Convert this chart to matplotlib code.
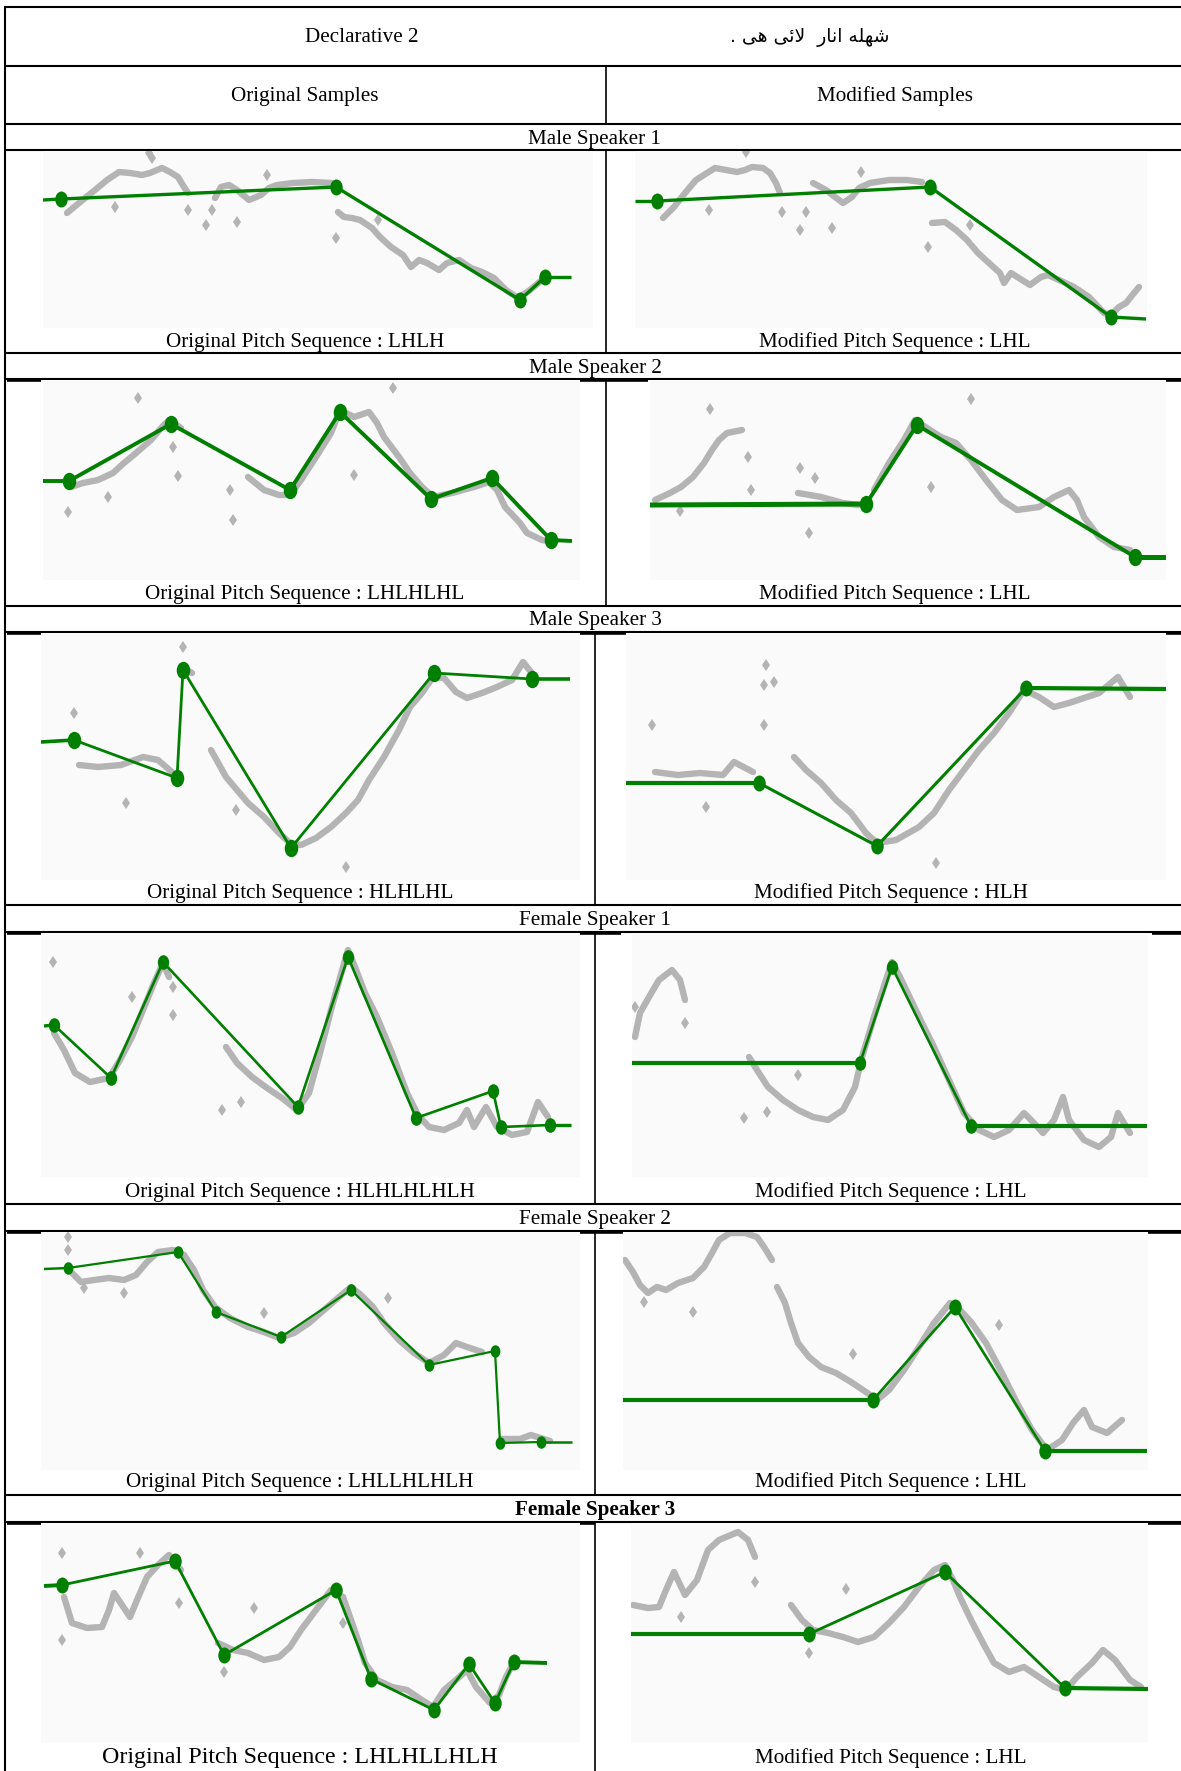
import matplotlib
matplotlib.use("Agg")
import matplotlib.pyplot as plt
from matplotlib.path import Path
from matplotlib.transforms import Affine2D

W, H = 1181, 1771

# ---------------------------------------------------------------------------
# Text content
# ---------------------------------------------------------------------------
sentence_label = "Declarative 2"
# Urdu sentence, pre-shaped into presentation forms and laid out left-to-right
sentence_urdu = (". " + "\uFEF0\uFEEB" + " " + "\uFBFD\uFE8B\uFEFB" + "  "
                 + "\uFEAD\uFE8E\uFEE7\uFE8D" + " " + "\uFEEA\uFEE0\uFEEC\uFEB7")
column_titles = ["Original Samples", "Modified Samples"]
speakers = ["Male Speaker 1", "Male Speaker 2", "Male Speaker 3",
            "Female Speaker 1", "Female Speaker 2", "Female Speaker 3"]
orig_sequences = ["LHLH", "LHLHLHL", "HLHLHL", "HLHLHLHLH", "LHLLHLHLH", "LHLHLLHLH"]
mod_sequences = ["LHL", "LHL", "HLH", "LHL", "LHL", "LHL"]

# ---------------------------------------------------------------------------
# Pitch data per panel: raw F0 track (segments), stray F0 points, stylised contour
# x = frame, y = pitch units above the panel floor
# ---------------------------------------------------------------------------
ms1_orig_f0 = [
    [(24, 115), (36, 125), (52, 138), (64, 148), (76, 156), (87, 155), (99, 153), (107, 155),
     (119, 160), (127, 156), (135, 151), (141, 141), (145, 135)],
    [(172, 130), (178, 141), (186, 143), (194, 138), (206, 128), (218, 133), (226, 140),
     (234, 143), (250, 145), (269, 146), (289, 145)],
    [(295, 116), (301, 111), (309, 110), (317, 108), (329, 100), (337, 91), (348, 81), (360, 73),
     (368, 61), (376, 68), (384, 65), (396, 58), (404, 65), (416, 68), (428, 60), (439, 56),
     (451, 50), (463, 38), (475, 30), (487, 38), (499, 48)],
]
ms1_orig_stray = [(72, 121), (145, 118), (163, 103), (169, 118), (194, 106), (224, 153),
                  (293, 90), (335, 108), (106, 175), (109, 170)]
ms1_orig_styl = [(0, 128), (18, 129), (293, 141), (477, 28), (502, 51), (528, 51)]

ms1_mod_f0 = [
    [(28, 110), (39, 121), (50, 135), (61, 148), (72, 155), (80, 160), (91, 158), (102, 156),
     (110, 158), (117, 161), (128, 160), (135, 155), (141, 145), (145, 135)],
    [(178, 145), (191, 138), (200, 131), (208, 125), (217, 131), (224, 140), (235, 145),
     (254, 148), (272, 148), (287, 146)],
    [(297, 105), (310, 106), (321, 98), (332, 88), (343, 75), (354, 65), (365, 55), (369, 45),
     (376, 55), (387, 48), (395, 43), (406, 51), (413, 53), (424, 48), (439, 41), (454, 31),
     (469, 15), (476, 13), (484, 21), (491, 25), (499, 35), (504, 41)],
]
ms1_mod_stray = [(111, 176), (74, 118), (147, 116), (165, 98), (171, 116), (197, 100),
                 (226, 156), (293, 81), (335, 103)]
ms1_mod_styl = [(0, 127), (22, 127), (295, 141), (476, 11), (511, 9)]

ms2_orig_f0 = [
    [(28, 93), (40, 97), (55, 100), (70, 107), (81, 117), (93, 127), (108, 140), (119, 153),
     (126, 160), (138, 152)],
    [(205, 103), (221, 90), (236, 85), (247, 85), (258, 100), (273, 123), (288, 147), (297, 170),
     (311, 163), (326, 168), (334, 157), (341, 143), (356, 123), (367, 107), (379, 93),
     (390, 83), (409, 87), (431, 93), (446, 98), (454, 90), (462, 73), (477, 57), (484, 47),
     (499, 40), (510, 38)],
]
ms2_orig_stray = [(95, 182), (25, 68), (65, 83), (135, 104), (190, 60), (187, 90),
                  (350, 192), (311, 105), (130, 133)]
ms2_orig_styl = [(0, 99), (26, 99), (128, 156), (247, 90), (297, 168), (388, 81),
                 (449, 102), (508, 40), (529, 39)]

ms2_mod_f0 = [
    [(5, 80), (20, 87), (31, 93), (43, 103), (54, 117), (62, 130), (69, 140), (77, 147), (92, 150)],
    [(148, 87), (171, 83), (193, 77), (208, 75)],
    [(224, 90), (239, 117), (254, 140), (265, 160), (280, 150), (291, 143), (306, 137),
     (321, 120), (336, 100), (352, 80), (367, 70), (389, 73), (404, 83), (419, 90), (427, 80),
     (434, 63), (449, 43), (464, 33), (480, 30)],
]
ms2_mod_stray = [(60, 171), (98, 123), (101, 90), (150, 112), (159, 47), (321, 181),
                 (281, 93), (165, 102), (30, 69)]
ms2_mod_styl = [(0, 75), (216, 76), (267, 155), (485, 23), (516, 23)]

ms3_orig_f0 = [
    [(38, 115), (57, 113), (80, 115), (102, 123), (117, 120), (132, 107)],
    [(140, 213), (151, 207)],
    [(170, 130), (185, 103), (196, 90), (207, 77), (223, 63), (238, 47), (249, 37), (260, 35),
     (275, 42), (290, 53), (305, 67), (317, 80), (328, 100), (343, 123), (358, 150), (369, 173),
     (381, 187), (392, 203), (403, 202), (415, 188), (426, 182), (441, 187), (456, 193),
     (471, 200), (482, 218), (494, 203)],
]
ms3_orig_stray = [(33, 167), (85, 77), (195, 70), (305, 13), (142, 233)]
ms3_orig_styl = [(0, 138), (33, 140), (136, 102), (142, 210), (250, 32), (393, 207),
                 (491, 201), (529, 201)]

ms3_mod_f0 = [
    [(29, 108), (52, 105), (74, 107), (97, 105), (108, 118), (127, 108)],
    [(168, 123), (180, 110), (195, 97), (210, 80), (225, 67), (240, 47), (251, 37), (270, 40),
     (293, 53), (308, 67), (323, 90), (338, 110), (353, 130), (368, 147), (383, 167),
     (398, 190), (413, 183), (428, 173), (443, 177), (458, 182), (473, 187), (492, 203),
     (504, 183)],
]
ms3_mod_stray = [(140, 215), (138, 195), (148, 198), (138, 155), (26, 155), (80, 73), (310, 17)]
ms3_mod_styl = [(0, 97), (133, 97), (251, 34), (400, 192), (540, 191)]

fs1_orig_f0 = [
    [(13, 144), (23, 127), (34, 104), (49, 95), (68, 99), (79, 117), (91, 140), (102, 167),
     (113, 194), (122, 214), (128, 200)],
    [(185, 130), (196, 114), (211, 100), (226, 89), (241, 79), (256, 67), (268, 84), (279, 124),
     (290, 167), (302, 210), (307, 227), (314, 210), (324, 184), (336, 160), (351, 124),
     (366, 84), (377, 62), (388, 50), (403, 47), (418, 54), (426, 67), (433, 50), (445, 70),
     (456, 50), (471, 42), (486, 45), (497, 75), (507, 60)],
]
fs1_orig_stray = [(12, 215), (91, 180), (132, 190), (132, 162), (181, 67), (200, 75)]
fs1_orig_styl = [(3, 151), (13, 152), (70, 99), (122, 215), (257, 70), (307, 220),
                 (375, 59), (452, 86), (460, 50), (509, 52), (530, 52)]

fs1_mod_f0 = [
    [(3, 140), (8, 164), (17, 180), (27, 197), (40, 207), (48, 197), (53, 177)],
    [(117, 120), (125, 107), (136, 90), (151, 77), (166, 67), (181, 60), (196, 57), (211, 67),
     (223, 90), (230, 120), (242, 160), (253, 194), (260, 215), (268, 200), (279, 177),
     (290, 154), (302, 130), (317, 97), (332, 64), (347, 47), (362, 40), (377, 47), (392, 64),
     (401, 55), (411, 44), (422, 57), (431, 80), (437, 57), (452, 37), (467, 30), (479, 40),
     (486, 64), (498, 44)],
]
fs1_mod_stray = [(53, 154), (3, 170), (112, 59), (135, 65), (166, 102)]
fs1_mod_styl = [(0, 114), (228, 114), (260, 210), (339, 51), (515, 51)]

fs2_orig_f0 = [
    [(31, 197), (40, 188), (53, 190), (68, 192), (83, 190), (95, 195), (106, 208), (117, 218),
     (132, 220), (143, 215), (153, 200), (162, 180), (174, 163), (189, 152), (207, 143),
     (223, 138), (238, 132), (253, 137), (268, 147), (283, 160), (298, 173), (310, 183),
     (320, 175), (332, 163), (343, 147), (358, 130), (373, 117), (388, 107), (403, 115),
     (415, 127), (426, 123), (441, 118)],
    [(460, 31), (479, 31), (490, 35), (509, 29)],
]
fs2_orig_stray = [(27, 233), (27, 220), (83, 177), (43, 182), (223, 157), (347, 172)]
fs2_orig_styl = [(3, 201), (27, 202), (137, 218), (175, 158), (240, 133), (310, 180),
                 (388, 105), (454, 119), (459, 27), (500, 28), (531, 28)]

fs2_mod_f0 = [
    [(2, 210), (10, 198), (17, 185), (25, 177), (34, 183), (43, 180), (55, 187), (70, 192),
     (81, 203), (89, 217), (96, 230), (107, 237), (122, 237), (134, 233), (141, 223), (149, 210)],
    [(154, 183), (162, 167), (168, 147), (175, 127), (186, 113), (198, 103), (213, 97),
     (228, 88), (243, 78), (254, 70), (266, 80), (281, 100), (296, 123), (311, 147), (327, 167),
     (337, 160), (348, 148), (363, 127), (379, 97), (394, 67), (409, 40), (424, 20), (439, 30),
     (450, 47), (461, 60), (469, 43), (484, 37), (499, 50)],
]
fs2_mod_stray = [(70, 158), (230, 116), (376, 145), (21, 168)]
fs2_mod_styl = [(0, 70), (250, 70), (332, 163), (422, 19), (524, 19)]

fs3_orig_f0 = [
    [(23, 146), (31, 120), (46, 115), (61, 116), (68, 133), (73, 150), (81, 138), (89, 126),
     (96, 143), (106, 166), (117, 178), (128, 188), (140, 173)],
    [(177, 100), (192, 93), (207, 90), (223, 83), (238, 86), (249, 96), (260, 113), (275, 133),
     (290, 153), (302, 146), (309, 126), (317, 103), (324, 80), (336, 63), (351, 56), (366, 53),
     (381, 43), (392, 36), (403, 53), (415, 63), (426, 73), (435, 56), (449, 40), (458, 48),
     (465, 66), (473, 81)],
]
fs3_orig_stray = [(21, 190), (21, 103), (99, 190), (138, 140), (183, 71), (213, 135), (302, 120)]
fs3_orig_styl = [(3, 157), (21, 158), (134, 182), (183, 88), (295, 153), (330, 64),
                 (393, 33), (428, 79), (454, 40), (473, 81), (506, 80)]

fs3_mod_f0 = [
    [(2, 138), (17, 135), (28, 136), (35, 153), (43, 171), (54, 148), (66, 163), (77, 193),
     (88, 203), (107, 211), (117, 203), (124, 186)],
    [(160, 138), (171, 123), (182, 113), (197, 110), (212, 106), (227, 101), (243, 106),
     (258, 120), (273, 136), (288, 156), (303, 173), (314, 178), (322, 163), (329, 146),
     (340, 123), (352, 100), (363, 80), (378, 71), (393, 76), (408, 66), (423, 56), (435, 53),
     (446, 66), (461, 80), (472, 93), (484, 83), (499, 63), (510, 56)],
]
fs3_mod_stray = [(124, 161), (50, 126), (215, 154), (178, 90)]
fs3_mod_styl = [(0, 109), (178, 109), (314, 171), (434, 55), (517, 54)]

# ---------------------------------------------------------------------------
# Layout (pixels): table rules and panel boxes (x0, y0, x1, y1)
# ---------------------------------------------------------------------------
row_rules = [7, 66, 124, 150, 353, 379, 606, 632, 905, 932, 1204, 1231, 1495, 1522]
speaker_rows = [(124, 150), (353, 379), (606, 632), (905, 932), (1204, 1231), (1495, 1522)]
divider_spans = [(606, 66, 124), (606, 150, 353), (606, 379, 606), (595, 632, 905),
                 (595, 932, 1204), (595, 1231, 1495), (595, 1522, 1771)]
heavy_marks = [(379, 7, 41), (379, 572, 648), (379, 1163, 1181),
               (632, 7, 41), (632, 572, 626), (632, 1166, 1181),
               (932, 7, 41), (932, 572, 621), (932, 1152, 1181),
               (1231, 7, 41), (1231, 572, 1181),
               (1522, 7, 41), (1522, 550, 595), (1522, 1148, 1181)]

panels = [
    # (box, f0, stray, stylised, line width, marker size, flat-part width)
    ((43, 151, 593, 328), ms1_orig_f0, ms1_orig_stray, ms1_orig_styl, 2.4, 11.5, 2.4),
    ((635, 151, 1147, 328), ms1_mod_f0, ms1_mod_stray, ms1_mod_styl, 2.4, 11.5, 2.4),
    ((43, 380, 580, 580), ms2_orig_f0, ms2_orig_stray, ms2_orig_styl, 2.8, 12.5, 2.8),
    ((650, 380, 1166, 580), ms2_mod_f0, ms2_mod_stray, ms2_mod_styl, 2.8, 12.5, 3.6),
    ((41, 633, 580, 880), ms3_orig_f0, ms3_orig_stray, ms3_orig_styl, 2.0, 12.5, 2.6),
    ((626, 633, 1166, 880), ms3_mod_f0, ms3_mod_stray, ms3_mod_styl, 2.2, 11.5, 3.0),
    ((41, 933, 580, 1177), fs1_orig_f0, fs1_orig_stray, fs1_orig_styl, 1.9, 10.5, 2.4),
    ((632, 933, 1148, 1177), fs1_mod_f0, fs1_mod_stray, fs1_mod_styl, 1.9, 10.5, 3.0),
    ((41, 1232, 580, 1470), fs2_orig_f0, fs2_orig_stray, fs2_orig_styl, 1.6, 9, 1.8),
    ((623, 1232, 1148, 1470), fs2_mod_f0, fs2_mod_stray, fs2_mod_styl, 1.9, 11.5, 3.0),
    ((41, 1523, 580, 1743), fs3_orig_f0, fs3_orig_stray, fs3_orig_styl, 2.0, 11.5, 2.8),
    ((631, 1523, 1148, 1743), fs3_mod_f0, fs3_mod_stray, fs3_mod_styl, 2.0, 11.5, 3.0),
]

GREEN = "#007f00"
GREY = "#b4b4b4"
PANEL_BG = "#fafafa"
DOT = Affine2D().scale(0.78, 1.0).transform_path(Path.unit_circle())
FS = 15.2

plt.rcParams["font.family"] = ["Liberation Serif", "DejaVu Serif"]

fig = plt.figure(figsize=(W / 100, H / 100), dpi=100)
fig.patch.set_facecolor("white")
base = fig.add_axes([0, 0, 1, 1])
base.set_xlim(0, W)
base.set_ylim(H, 0)
base.axis("off")

# table rules
for y in row_rules:
    base.plot([5, W], [y, y], color="black", lw=1.5, solid_capstyle="butt")
base.plot([5, 5], [7, H], color="black", lw=1.5)
for x, ya, yb in divider_spans:
    base.plot([x, x], [ya, yb], color="black", lw=1.2)
for y, xa, xb in heavy_marks:
    base.plot([xa, xb], [y + 1, y + 1], color="black", lw=2.6, solid_capstyle="butt")

# header text
base.text(362, 37, sentence_label, ha="center", va="center", fontsize=FS)
base.text(810, 37, sentence_urdu, ha="center", va="center", fontsize=13.5,
          family=["DejaVu Sans", "DejaVu Sans Mono", "DejaVu Serif"])
base.text(305, 96, column_titles[0], ha="center", va="center", fontsize=FS)
base.text(895, 96, column_titles[1], ha="center", va="center", fontsize=FS)

for i, (name, (ya, yb)) in enumerate(zip(speakers, speaker_rows)):
    base.text(595, (ya + yb) / 2 + 2, name, ha="center", va="center", fontsize=FS,
              fontweight="bold" if i == len(speakers) - 1 else "normal")

label_y = [342, 594, 893, 1192, 1482, 1758]
left_cx = [305, 305, 300, 300, 300, 300]
right_cx = [895, 895, 891, 891, 891, 891]
for i in range(len(speakers)):
    fs_orig = 17.3 if i == len(speakers) - 1 else FS
    base.text(left_cx[i], label_y[i], "Original Pitch Sequence : " + orig_sequences[i],
              ha="center", va="center", fontsize=fs_orig)
    base.text(right_cx[i], label_y[i], "Modified Pitch Sequence : " + mod_sequences[i],
              ha="center", va="center", fontsize=FS)

# pitch panels
for box, f0, stray, styl, lw, ms, flat_lw in panels:
    x0, y0, x1, y1 = box
    ax = fig.add_axes([x0 / W, 1 - y1 / H, (x1 - x0) / W, (y1 - y0) / H])
    ax.set_xlim(0, x1 - x0)
    ax.set_ylim(0, y1 - y0)
    ax.set_facecolor(PANEL_BG)
    for sp in ax.spines.values():
        sp.set_visible(False)
    ax.set_xticks([])
    ax.set_yticks([])
    for seg in f0:
        xs, ys = zip(*seg)
        ax.plot(xs, ys, color=GREY, lw=4.6, solid_joinstyle="round",
                solid_capstyle="round", zorder=1)
    sx_, sy_ = zip(*stray)
    ax.plot(sx_, sy_, ls="none", marker="d", ms=6.5, color=GREY, mew=0, zorder=1)
    xs, ys = zip(*styl)
    ax.plot(xs[:2], ys[:2], color=GREEN, lw=flat_lw, solid_capstyle="butt", zorder=2)
    ax.plot(xs[-2:], ys[-2:], color=GREEN, lw=flat_lw, solid_capstyle="butt", zorder=2)
    ax.plot(xs[1:-1], ys[1:-1], color=GREEN, lw=lw, marker=DOT, ms=ms, mew=0,
            solid_joinstyle="round", zorder=3)

fig.savefig("out.png", dpi=100, facecolor="white")
